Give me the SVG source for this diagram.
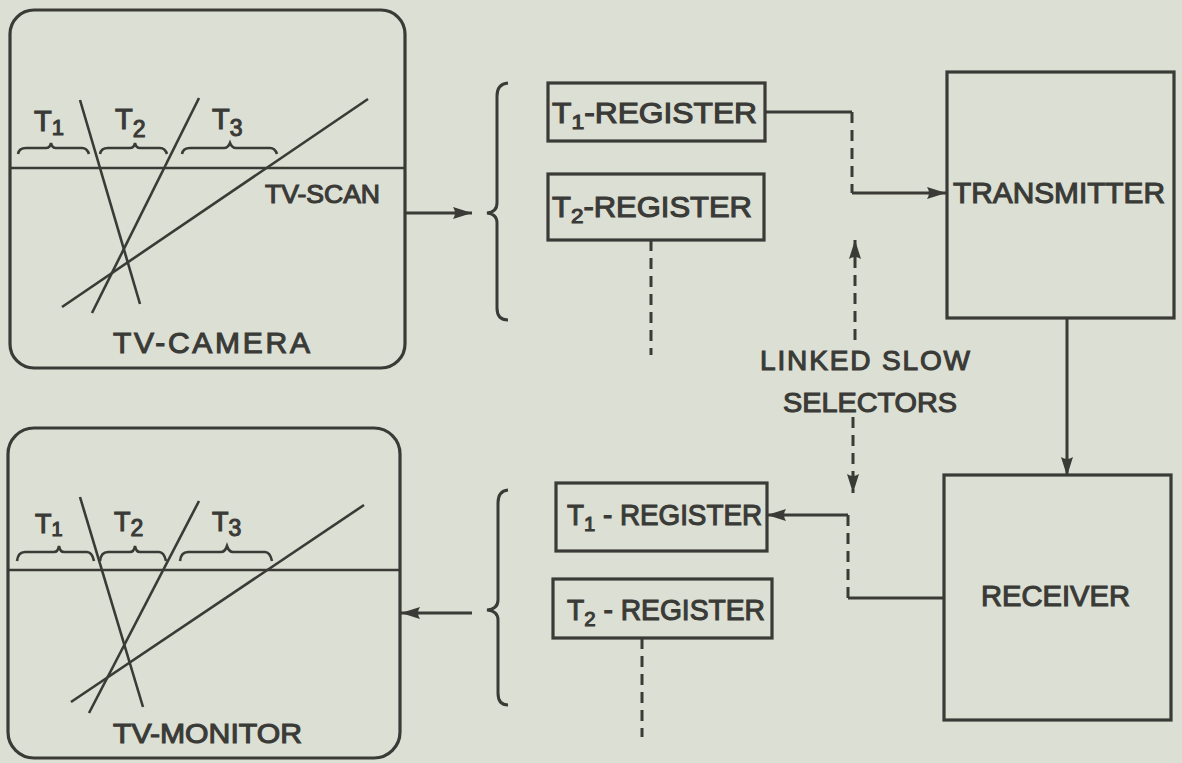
<svg xmlns="http://www.w3.org/2000/svg" width="1182" height="763" viewBox="0 0 1182 763">
<defs>
<marker id="ah" markerUnits="userSpaceOnUse" markerWidth="22" markerHeight="16" refX="19" refY="7" orient="auto">
<path d="M0,1 L19,7 L0,13 Q4,7 0,1 Z" fill="#3a3a37"/>
</marker>
<style>
.box{fill:none;stroke:#3a3a37;stroke-width:3.2}
.ln{fill:none;stroke:#3a3a37;stroke-width:3}
.thin{fill:none;stroke:#3a3a37;stroke-width:2.6}
.dash{fill:none;stroke:#3a3a37;stroke-width:3;stroke-dasharray:11 7}
.t{font-family:"Liberation Sans",Arial,sans-serif;fill:#3a3a37;stroke:#3a3a37;stroke-width:1.1}
</style>
</defs>
<rect width="1182" height="763" fill="#dcdfd3"/>

<g id="tv-camera">
<rect class="box" x="10" y="10" width="395" height="358" rx="24"/>
<line class="thin" x1="10" y1="168" x2="405" y2="168"/>
<line class="thin" x1="80" y1="100" x2="140" y2="304"/>
<line class="thin" x1="199" y1="98" x2="92" y2="313"/>
<line class="thin" x1="368" y1="99" x2="62" y2="307"/>
<path class="thin" d="M18,154 Q19,148 26,148 L46,148 Q50,148 51,143 Q52,148 56,148 L82,148 Q87,148 89,154"/>
<path class="thin" d="M100,154 Q101,148 108,148 L130,148 Q134,148 135,143 Q136,148 140,148 L160,148 Q165,148 167,154"/>
<path class="thin" d="M182,154 Q183,148 190,148 L224,148 Q228,148 230,143 Q232,148 236,148 L270,148 Q275,148 277,154"/>
<text class="t" x="34" y="131" font-size="29">T<tspan font-size="22" dy="4">1</tspan></text>
<text class="t" x="115" y="129" font-size="29">T<tspan font-size="23" dy="8">2</tspan></text>
<text class="t" x="212" y="129" font-size="29">T<tspan font-size="23" dy="7">3</tspan></text>
<text class="t" x="265" y="203" font-size="25" textLength="115" lengthAdjust="spacingAndGlyphs">TV-SCAN</text>
<text class="t" x="113" y="353" font-size="30" textLength="197" lengthAdjust="spacing">TV-CAMERA</text>
</g>

<g id="tv-monitor">
<rect class="box" x="8" y="428" width="392" height="330" rx="26"/>
<line class="thin" x1="8" y1="570" x2="400" y2="570"/>
<line class="thin" x1="80" y1="497" x2="143" y2="707"/>
<line class="thin" x1="199" y1="501" x2="89" y2="713"/>
<line class="thin" x1="364" y1="505" x2="71" y2="702"/>
<path class="thin" d="M17,561 Q18,552 25,552 L54,552 Q58,552 59,546 Q60,552 64,552 L87,552 Q92,552 94,561"/>
<path class="thin" d="M100,561 Q101,552 108,552 L130,552 Q134,552 135,546 Q136,552 140,552 L159,552 Q164,552 166,561"/>
<path class="thin" d="M180,561 Q181,552 188,552 L221,552 Q225,552 227,546 Q229,552 233,552 L265,552 Q270,552 272,561"/>
<text class="t" x="35" y="533" font-size="27">T<tspan font-size="20" dy="3">1</tspan></text>
<text class="t" x="114" y="531" font-size="27">T<tspan font-size="23" dy="5">2</tspan></text>
<text class="t" x="212" y="531" font-size="27">T<tspan font-size="23" dy="5">3</tspan></text>
<text class="t" x="113" y="743" font-size="28" textLength="189" lengthAdjust="spacingAndGlyphs">TV-MONITOR</text>
</g>

<g id="brace-top">
<path class="ln" d="M508,83 Q497,84 497,96 L497,203 Q497,212 487,213 Q497,214 497,223 L497,308 Q497,320 508,320"/>
</g>
<g id="brace-bottom">
<path class="ln" d="M508,490 Q498,491 498,503 L498,600 Q498,609 487,610 Q498,611 498,620 L498,693 Q498,705 508,705"/>
</g>

<g id="t1-register-top">
<rect class="box" x="548" y="83" width="217" height="58"/>
<text class="t" x="552" y="123" font-size="29" textLength="205" lengthAdjust="spacingAndGlyphs">T<tspan font-size="21" dy="6">1</tspan><tspan dy="-6">-REGISTER</tspan></text>
</g>
<g id="t2-register-top">
<rect class="box" x="548" y="174" width="216" height="66"/>
<text class="t" x="552" y="217" font-size="29" textLength="200" lengthAdjust="spacingAndGlyphs">T<tspan font-size="21" dy="6">2</tspan><tspan dy="-6">-REGISTER</tspan></text>
</g>
<g id="t1-register-bottom">
<rect class="box" x="556" y="483" width="211" height="68"/>
<text class="t" x="567" y="525" font-size="29" textLength="195" lengthAdjust="spacingAndGlyphs">T<tspan font-size="21" dy="6">1</tspan><tspan dy="-6"> - REGISTER</tspan></text>
</g>
<g id="t2-register-bottom">
<rect class="box" x="553" y="579" width="219" height="59"/>
<text class="t" x="567" y="620" font-size="29" textLength="198" lengthAdjust="spacingAndGlyphs">T<tspan font-size="21" dy="6">2</tspan><tspan dy="-6"> - REGISTER</tspan></text>
</g>

<g id="transmitter">
<rect class="box" x="947" y="72" width="227" height="246"/>
<text class="t" x="953" y="203" font-size="29" textLength="212" lengthAdjust="spacingAndGlyphs">TRANSMITTER</text>
</g>
<g id="receiver">
<rect class="box" x="944" y="475" width="227" height="245"/>
<text class="t" x="981" y="606" font-size="29" textLength="149" lengthAdjust="spacingAndGlyphs">RECEIVER</text>
</g>

<g id="selectors-label">
<text class="t" x="760" y="370" font-size="28" textLength="210" lengthAdjust="spacing">LINKED SLOW</text>
<text class="t" x="783" y="412" font-size="28" textLength="174" lengthAdjust="spacingAndGlyphs">SELECTORS</text>
</g>

<g id="connectors">
<line class="ln" x1="405" y1="213" x2="472" y2="213" marker-end="url(#ah)"/>
<line class="ln" x1="765" y1="112" x2="852" y2="112"/>
<line class="dash" x1="852" y1="112" x2="852" y2="193"/>
<line class="ln" x1="852" y1="193" x2="946" y2="193" marker-end="url(#ah)"/>
<line class="dash" x1="651" y1="240" x2="651" y2="355"/>
<line class="dash" x1="855" y1="340" x2="855" y2="240" marker-end="url(#ah)"/>
<line class="dash" x1="853" y1="417" x2="853" y2="493" marker-end="url(#ah)"/>
<line class="ln" x1="1067" y1="318" x2="1067" y2="476" marker-end="url(#ah)"/>
<line class="ln" x1="944" y1="598" x2="848" y2="598"/>
<line class="dash" x1="848" y1="598" x2="848" y2="515"/>
<line class="ln" x1="848" y1="515" x2="767" y2="515" marker-end="url(#ah)"/>
<line class="dash" x1="642" y1="638" x2="642" y2="737"/>
<line class="ln" x1="472" y1="613" x2="401" y2="613" marker-end="url(#ah)"/>
</g>
</svg>
